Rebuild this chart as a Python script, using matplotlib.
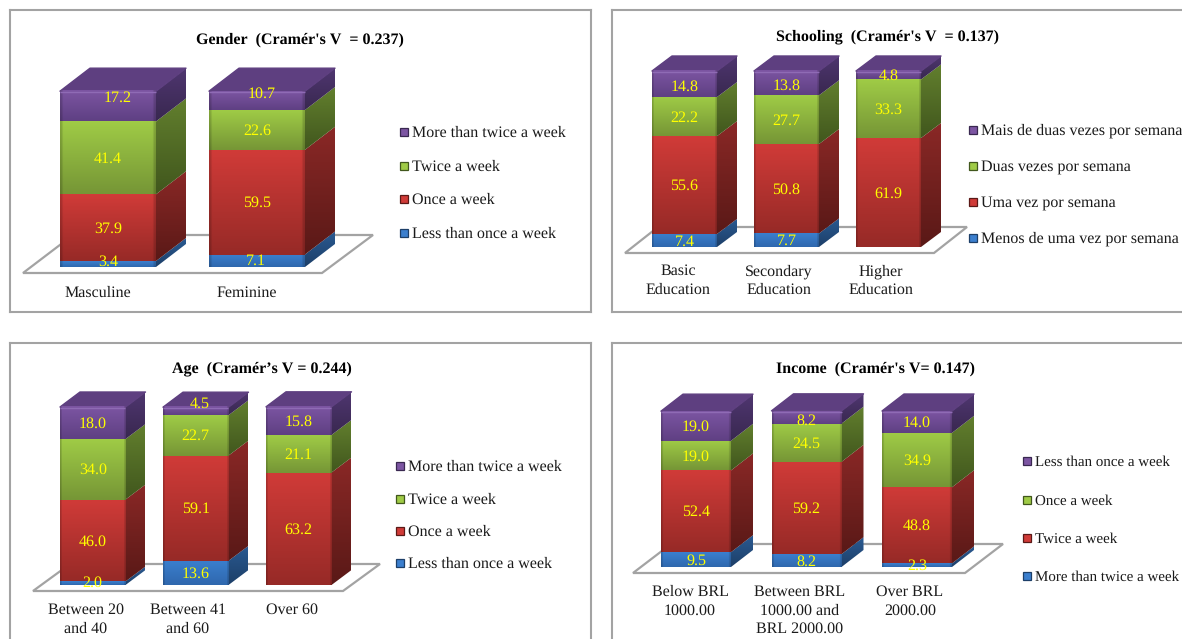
import numpy as np
import matplotlib
matplotlib.use("Agg")
import matplotlib.pyplot as plt
from matplotlib.patches import Polygon

plt.rcParams["font.family"] = ["Liberation Serif", "DejaVu Serif"]
plt.rcParams["text.hinting"] = "no_hinting"
plt.rcParams["text.hinting_factor"] = 1

W, H = 1182, 639

# =========================
# Survey percentages (bottom segment first)
# =========================
gender_cats = ["Masculine", "Feminine"]
gender_blue = [3.4, 7.1]
gender_red = [37.9, 59.5]
gender_green = [41.4, 22.6]
gender_purple = [17.2, 10.7]
gender_legend = ["Less than once a week", "Once a week", "Twice a week", "More than twice a week"]

school_cats = ["Basic\nEducation", "Secondary\nEducation", "Higher\nEducation"]
school_blue = [7.4, 7.7, 0]
school_red = [55.6, 50.8, 61.9]
school_green = [22.2, 27.7, 33.3]
school_purple = [14.8, 13.8, 4.8]
school_legend = ["Menos de uma vez por semana", "Uma vez por semana", "Duas vezes por semana", "Mais de duas vezes por semana"]

age_cats = ["Between 20\nand 40", "Between 41\nand 60", "Over 60"]
age_blue = [2.0, 13.6, 0]
age_red = [46.0, 59.1, 63.2]
age_green = [34.0, 22.7, 21.1]
age_purple = [18.0, 4.5, 15.8]
age_legend = ["Less than once a week", "Once a week", "Twice a week", "More than twice a week"]

income_cats = ["Below BRL\n1000.00", "Between BRL\n1000.00 and\nBRL 2000.00", "Over BRL\n2000.00"]
income_blue = [9.5, 8.2, 2.3]
income_red = [52.4, 59.2, 48.8]
income_green = [19.0, 24.5, 34.9]
income_purple = [19.0, 8.2, 14.0]
income_legend = ["More than twice a week", "Twice a week", "Once a week", "Less than once a week"]

# (front top, front bottom, side top, side bottom) for each series
SHADES = [
    ("#3b7fce", "#2f68ae", "#2a5a92", "#1d3f68"),
    ("#d03b38", "#972a27", "#8a2826", "#5a1917"),
    ("#9fcb46", "#769636", "#627f2e", "#41571d"),
    ("#7c55a2", "#5f4083", "#4f3670", "#392850"),
]
TOP_COLOR = "#5e3f80"
EDGE = "#a3a3a3"
YELLOW = "#ffff00"
TEXT = "#1a1a1a"
FONT = 11.4


def rgb(c):
    return np.array(matplotlib.colors.to_rgb(c))


def gradient(c0, c1, edge=False):
    # vertical ramp, with darker left/right rims on front faces
    t = np.linspace(0, 1, 40)[:, None, None]
    img = rgb(c0)[None, None, :] * (1 - t) + rgb(c1)[None, None, :] * t
    img = np.repeat(img, 40, axis=1)
    if edge:
        rim = np.ones(40)
        rim[:1] = 0.82
        rim[-1:] = 0.82
        img = img * rim[None, :, None]
    return img


def draw_panel(frame, bar, floor, title, title_xy, cats, series, legend, legend_x, legend_y,
               cat_y, nudges, legend_font=FONT):
    L, T, R, B = frame
    left0, spacing, width, y0, scale, dpx, dpy = bar
    ax = fig.add_axes([L / W, 1 - B / H, (R - L) / W, (B - T) / H])
    ax.set_xticks([])
    ax.set_yticks([])
    for sp in ax.spines.values():
        sp.set_color(EDGE)
        sp.set_linewidth(1.5)

    cx0 = left0 + width / 2

    def X(px):
        return (px - cx0) / spacing

    def Y(py):
        return (y0 - py) / scale

    bw = width / spacing
    dx = dpx / spacing
    dy = dpy / scale

    # floor plane under the bars
    ax.add_patch(Polygon([(X(a), Y(b)) for a, b in floor], closed=True, facecolor="white",
                         edgecolor=EDGE, linewidth=1.6, zorder=1))

    n = len(cats)
    for i in range(n):
        x0 = i - bw / 2
        x1 = i + bw / 2
        bottom = 0
        for s, vals in enumerate(series):
            v = vals[i]
            if v <= 0:
                continue
            top = bottom + v
            c0, c1, c2, c3 = SHADES[s]
            ax.imshow(gradient(c0, c1, edge=True), extent=(x0, x1, bottom, top), aspect="auto",
                      interpolation="bilinear", zorder=4)
            im = ax.imshow(gradient(c2, c3), extent=(x1, x1 + dx, bottom, top + dy), aspect="auto",
                           interpolation="bilinear", zorder=3)
            im.set_clip_path(Polygon([(x1, bottom), (x1, top), (x1 + dx, top + dy), (x1 + dx, bottom + dy)],
                                     closed=True, transform=ax.transData))
            bottom = top
        # top face of the stack, rounded off by the round-joined edge
        ax.add_patch(Polygon([(x0, bottom), (x1, bottom), (x1 + dx, bottom + dy), (x0 + dx, bottom + dy)],
                             closed=True, facecolor=TOP_COLOR, edgecolor=TOP_COLOR, linewidth=1.0,
                             joinstyle="round", zorder=3.5))
        # light bevel along the top front edge
        ax.plot([x0, x1], [bottom - 1.2 / scale] * 2, color="#8f6bb5", linewidth=1.0, zorder=5,
                solid_capstyle="butt")

        # value labels
        bottom = 0
        for s, vals in enumerate(series):
            v = vals[i]
            if v <= 0:
                continue
            nx, ny = nudges.get((i, s), (0, 0))
            ax.text(i + nx / spacing, bottom + v / 2 - (ny + 1) / scale, f"{v:.1f}", color=YELLOW, fontsize=FONT,
                    ha="center", va="center", zorder=6)
            bottom += v

        ax.text(X(cat_y[1][i]), Y(cat_y[0]), cats[i], color=TEXT, fontsize=FONT, ha="center", va="top",
                linespacing=1.36, zorder=6)

    ax.text(X(title_xy[0]), Y(title_xy[1] + 1), title, color="black", fontsize=FONT, fontweight="bold",
            ha="center", va="center")

    # legend, top row is the last series
    for s, label in enumerate(legend):
        ly = legend_y[len(legend) - 1 - s]
        ax.plot([X(legend_x)], [Y(ly)], marker="s", markersize=6.2, color=SHADES[s][0],
                markeredgecolor=SHADES[s][3], markeredgewidth=0.9, linestyle="none", zorder=5)
        ax.text(X(legend_x + 8), Y(ly + 1), label, color=TEXT, fontsize=legend_font, ha="left", va="center",
                clip_on=False)

    ax.set_xlim(X(L), X(R))
    ax.set_ylim(Y(B), Y(T))
    return ax


fig = plt.figure(figsize=(W / 100, H / 100), dpi=100, facecolor="white")

draw_panel(
    (10, 10, 591, 312), (60, 149, 96, 267, 1.76, 30, 23),
    [(23, 273), (322, 273), (373, 235), (73, 235)],
    "Gender  (Cramér's V  = 0.237)", (300, 39), gender_cats,
    [gender_blue, gender_red, gender_green, gender_purple], gender_legend,
    404, [132, 166, 199, 233], (286, [98, 247]),
    {(0, 3): (10, -9), (0, 0): (0, -3), (1, 3): (5, -8), (1, 0): (-1, -1)},
)
draw_panel(
    (612, 10, 1200, 312), (652, 102, 65, 247, 1.76, 20, 15),
    [(625, 253), (934, 253), (967, 227), (658, 227)],
    "Schooling  (Cramér's V  = 0.137)", (887, 36), school_cats,
    [school_blue, school_red, school_green, school_purple], school_legend,
    973, [130, 166, 202, 238], (264, [678, 779, 881]),
    {(0, 3): (0, 2), (1, 3): (0, 2)},
    legend_font=11.3,
)
draw_panel(
    (10, 343, 591, 660), (60, 103, 65.5, 585, 1.78, 20, 15),
    [(33, 591), (343, 591), (380, 564), (70, 564)],
    "Age  (Cramér’s V = 0.244)", (262, 368), age_cats,
    [age_blue, age_red, age_green, age_purple], age_legend,
    400, [466, 499, 531, 563], (603, [86, 188, 292]),
    {(1, 3): (4, -8), (0, 0): (0, -1)},
)
draw_panel(
    (612, 343, 1200, 660), (661, 110.5, 70, 567, 1.56, 22, 17),
    [(633, 573), (965, 573), (1003, 544), (671, 544)],
    "Income  (Cramér's V= 0.147)", (875, 368), income_cats,
    [income_blue, income_red, income_green, income_purple], income_legend,
    1027, [461, 500, 538, 576], (585, [690, 800, 910]),
    {(1, 3): (0, 3)},
    legend_font=10.9,
)

fig.savefig("out.png", dpi=100)
